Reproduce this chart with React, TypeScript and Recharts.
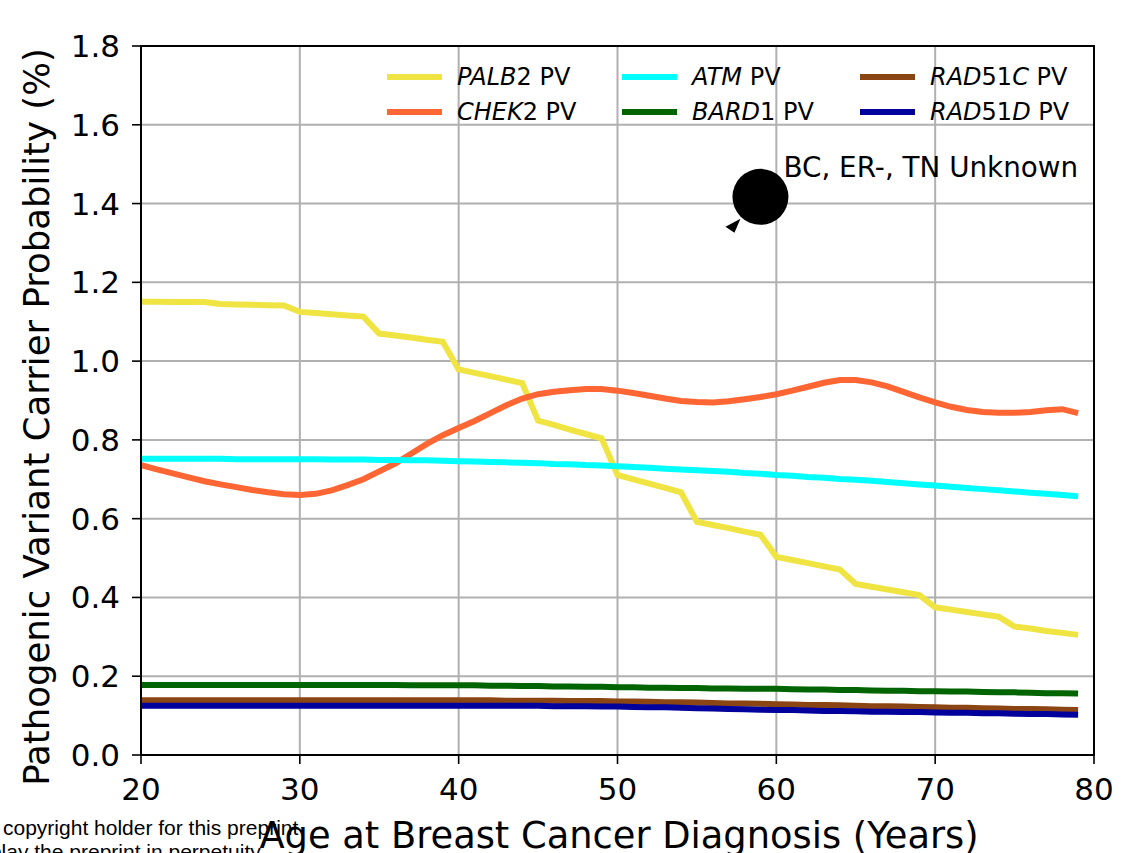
import {
  CartesianGrid,
  Legend,
  Line,
  LineChart,
  ReferenceArea,
  ReferenceDot,
  XAxis,
  YAxis
} from "recharts";

const ages = [
  20, 21, 22, 23, 24, 25, 26, 27, 28, 29,
  30, 31, 32, 33, 34, 35, 36, 37, 38, 39,
  40, 41, 42, 43, 44, 45, 46, 47, 48, 49,
  50, 51, 52, 53, 54, 55, 56, 57, 58, 59,
  60, 61, 62, 63, 64, 65, 66, 67, 68, 69,
  70, 71, 72, 73, 74, 75, 76, 77, 78, 79
];

const palb2 = [
  1.151, 1.151, 1.150, 1.150, 1.150, 1.145, 1.144, 1.143, 1.142, 1.141,
  1.125, 1.122, 1.119, 1.116, 1.113, 1.070, 1.065, 1.060, 1.054, 1.049,
  0.979, 0.970, 0.962, 0.953, 0.944, 0.849, 0.838, 0.826, 0.815, 0.804,
  0.711, 0.700, 0.689, 0.678, 0.667, 0.592, 0.584, 0.576, 0.567, 0.559,
  0.503, 0.495, 0.487, 0.479, 0.471, 0.434, 0.427, 0.420, 0.413, 0.406,
  0.375, 0.369, 0.363, 0.357, 0.351, 0.326, 0.321, 0.315, 0.310, 0.305
];

const chek2 = [
  0.736, 0.725, 0.715, 0.705, 0.695, 0.687, 0.680, 0.673, 0.667, 0.662,
  0.660, 0.663, 0.672, 0.685, 0.700, 0.720, 0.740, 0.765, 0.790, 0.812,
  0.830, 0.848, 0.868, 0.888, 0.905, 0.916, 0.922, 0.926, 0.929, 0.929,
  0.925, 0.919, 0.912, 0.905, 0.899, 0.896, 0.895, 0.898, 0.903, 0.909,
  0.916, 0.925, 0.935, 0.945, 0.952, 0.952, 0.946, 0.936, 0.922, 0.908,
  0.895, 0.884, 0.876, 0.871, 0.869, 0.869, 0.871, 0.875, 0.878, 0.868
];

const atm = [
  0.752, 0.752, 0.752, 0.752, 0.752, 0.752, 0.751, 0.751, 0.751, 0.751,
  0.751, 0.751, 0.750, 0.750, 0.750, 0.749, 0.749, 0.748, 0.748, 0.747,
  0.746, 0.745, 0.744, 0.743, 0.742, 0.741, 0.739, 0.738, 0.736, 0.735,
  0.733, 0.731, 0.729, 0.727, 0.725, 0.723, 0.721, 0.719, 0.716, 0.714,
  0.711, 0.709, 0.706, 0.704, 0.701, 0.699, 0.696, 0.693, 0.690, 0.687,
  0.684, 0.681, 0.678, 0.675, 0.672, 0.669, 0.666, 0.663, 0.660, 0.657
];

const bard1 = [
  0.178, 0.178, 0.178, 0.178, 0.178, 0.178, 0.178, 0.178, 0.178, 0.178,
  0.178, 0.178, 0.178, 0.178, 0.178, 0.178, 0.178, 0.177, 0.177, 0.177,
  0.177, 0.177, 0.176, 0.176, 0.175, 0.175, 0.174, 0.174, 0.173, 0.173,
  0.172, 0.172, 0.171, 0.171, 0.170, 0.170, 0.169, 0.169, 0.168, 0.168,
  0.168, 0.167, 0.166, 0.166, 0.165, 0.165, 0.164, 0.163, 0.163, 0.162,
  0.162, 0.161, 0.161, 0.160, 0.159, 0.159, 0.158, 0.157, 0.157, 0.156
];

const rad51c = [
  0.139, 0.139, 0.139, 0.139, 0.139, 0.139, 0.139, 0.139, 0.139, 0.139,
  0.139, 0.139, 0.139, 0.139, 0.139, 0.139, 0.139, 0.139, 0.139, 0.139,
  0.139, 0.139, 0.139, 0.138, 0.138, 0.138, 0.138, 0.137, 0.137, 0.137,
  0.136, 0.136, 0.135, 0.134, 0.134, 0.133, 0.132, 0.131, 0.131, 0.130,
  0.129, 0.128, 0.127, 0.127, 0.126, 0.125, 0.124, 0.124, 0.123, 0.122,
  0.121, 0.120, 0.120, 0.119, 0.118, 0.117, 0.117, 0.116, 0.115, 0.114
];

const rad51d = [
  0.125, 0.125, 0.125, 0.125, 0.125, 0.125, 0.125, 0.125, 0.125, 0.125,
  0.125, 0.125, 0.125, 0.125, 0.125, 0.125, 0.125, 0.125, 0.125, 0.125,
  0.125, 0.125, 0.125, 0.125, 0.125, 0.125, 0.124, 0.124, 0.124, 0.123,
  0.123, 0.122, 0.121, 0.121, 0.120, 0.119, 0.118, 0.117, 0.116, 0.115,
  0.114, 0.114, 0.113, 0.112, 0.112, 0.111, 0.110, 0.110, 0.109, 0.109,
  0.108, 0.107, 0.107, 0.106, 0.106, 0.105, 0.104, 0.104, 0.103, 0.102
];

const xTicks = [20, 30, 40, 50, 60, 70, 80];
const yTicks = [0, 0.2, 0.4, 0.6, 0.8, 1.0, 1.2, 1.4, 1.6, 1.8];

// marker annotation
const markerAge = 59;
const markerValue = 1.417;
const markerText = "BC, ER-, TN Unknown";

// name parts: [text, italic]
const series: { key: string; color: string; values: number[]; name: [string, boolean][] }[] = [
  { key: "palb2", color: "#f0e442", values: palb2, name: [["PALB", true], ["2 PV", false]] },
  { key: "chek2", color: "#ff6633", values: chek2, name: [["CHEK", true], ["2 PV", false]] },
  { key: "atm", color: "#00ffff", values: atm, name: [["ATM", true], [" PV", false]] },
  { key: "bard1", color: "#006400", values: bard1, name: [["BARD", true], ["1 PV", false]] },
  { key: "rad51c", color: "#8b4513", values: rad51c, name: [["RAD", true], ["51", false], ["C", true], [" PV", false]] },
  { key: "rad51d", color: "#00009c", values: rad51d, name: [["RAD", true], ["51", false], ["D", true], [" PV", false]] }
];

const data = ages.map((age, i) => {
  const row: Record<string, number> = { age };
  series.forEach((s) => {
    row[s.key] = s.values[i];
  });
  return row;
});

const FONT = "'DejaVu Sans', sans-serif";

function LegendBox() {
  return (
    <div
      style={{
        display: "grid",
        gridTemplateColumns: "235px 238px 240px",
        gridTemplateRows: "35px 35px",
        gridAutoFlow: "column",
        fontFamily: FONT,
        fontSize: 24,
        color: "#000"
      }}
    >
      {series.map((s) => (
        <div key={s.key} style={{ display: "flex", alignItems: "center", whiteSpace: "pre" }}>
          <span style={{ display: "inline-block", width: 55, height: 6, background: s.color, marginRight: 15 }} />
          <span>
            {s.name.map(([t, it], j) => (
              <span key={j} style={{ fontStyle: it ? "italic" : "normal" }}>
                {t}
              </span>
            ))}
          </span>
        </div>
      ))}
    </div>
  );
}

function Marker(props: any) {
  const { cx, cy } = props;
  return (
    <g>
      <circle cx={cx} cy={cy} r={28} fill="#000" />
      <polygon
        points={`${cx - 35},${cy + 30} ${cx - 26},${cy + 36} ${cx - 20},${cy + 22}`}
        fill="#000"
      />
      <text x={cx + 23} y={cy - 20} fontSize={27.8} fontFamily={FONT} fill="#000">
        {markerText}
      </text>
    </g>
  );
}

export default function App() {
  return (
    <div style={{ position: "relative", width: 1122, height: 853, background: "#fff", fontFamily: FONT }}>
      <style>{"body{margin:0}"}</style>
      <LineChart width={1122} height={853} data={data} margin={{ top: 46, right: 28, bottom: 0, left: 0 }}>
        <CartesianGrid stroke="#b0b0b0" strokeWidth={2} />
        <XAxis
          dataKey="age"
          type="number"
          domain={[20, 80]}
          ticks={xTicks}
          height={98}
          tickSize={9}
          tickMargin={14}
          tick={{ fontSize: 31, fill: "#000", fontFamily: FONT }}
          tickLine={{ stroke: "#000", strokeWidth: 1.6 }}
          axisLine={{ stroke: "#000", strokeWidth: 2 }}
        />
        <YAxis
          type="number"
          domain={[0, 1.8]}
          ticks={yTicks}
          width={141}
          tickSize={9}
          tickMargin={12}
          tickFormatter={(v: number) => v.toFixed(1)}
          tick={{ fontSize: 31, fill: "#000", fontFamily: FONT }}
          tickLine={{ stroke: "#000", strokeWidth: 1.6 }}
          axisLine={{ stroke: "#000", strokeWidth: 2 }}
        />
        <ReferenceArea x1={20} x2={80} y1={0} y2={1.8} fill="none" stroke="#000" strokeWidth={2} />
        {series.map((s) => (
          <Line
            key={s.key}
            type="linear"
            dataKey={s.key}
            stroke={s.color}
            strokeWidth={6}
            dot={false}
            isAnimationActive={false}
          />
        ))}
        <ReferenceDot x={markerAge} y={markerValue} r={28} shape={Marker} />
        <Legend
          layout="horizontal"
          verticalAlign="middle"
          align="center"
          content={() => <LegendBox />}
          wrapperStyle={{ top: 59, left: 387, width: 720, height: 70 }}
        />
      </LineChart>
      <svg
        width={1122}
        height={853}
        style={{ position: "absolute", left: 0, top: 0, pointerEvents: "none" }}
      >
        <text
          x={49}
          y={417}
          transform="rotate(-90 49 417)"
          textAnchor="middle"
          fontSize={35.5}
          fontFamily={FONT}
          fill="#000"
        >
          Pathogenic Variant Carrier Probability (%)
        </text>
        <text x={619} y={848} textAnchor="middle" fontSize={36.8} fontFamily={FONT} fill="#000">
          Age at Breast Cancer Diagnosis (Years)
        </text>
        <text x={3} y={835} fontSize={21} fontFamily="'Liberation Sans', Arial, sans-serif" fill="#000">
          copyright holder for this preprint
        </text>
        <text
          x={265}
          y={859}
          textAnchor="end"
          fontSize={21}
          fontFamily="'Liberation Sans', Arial, sans-serif"
          fill="#000"
        >
          display the preprint in perpetuity.
        </text>
      </svg>
    </div>
  );
}
